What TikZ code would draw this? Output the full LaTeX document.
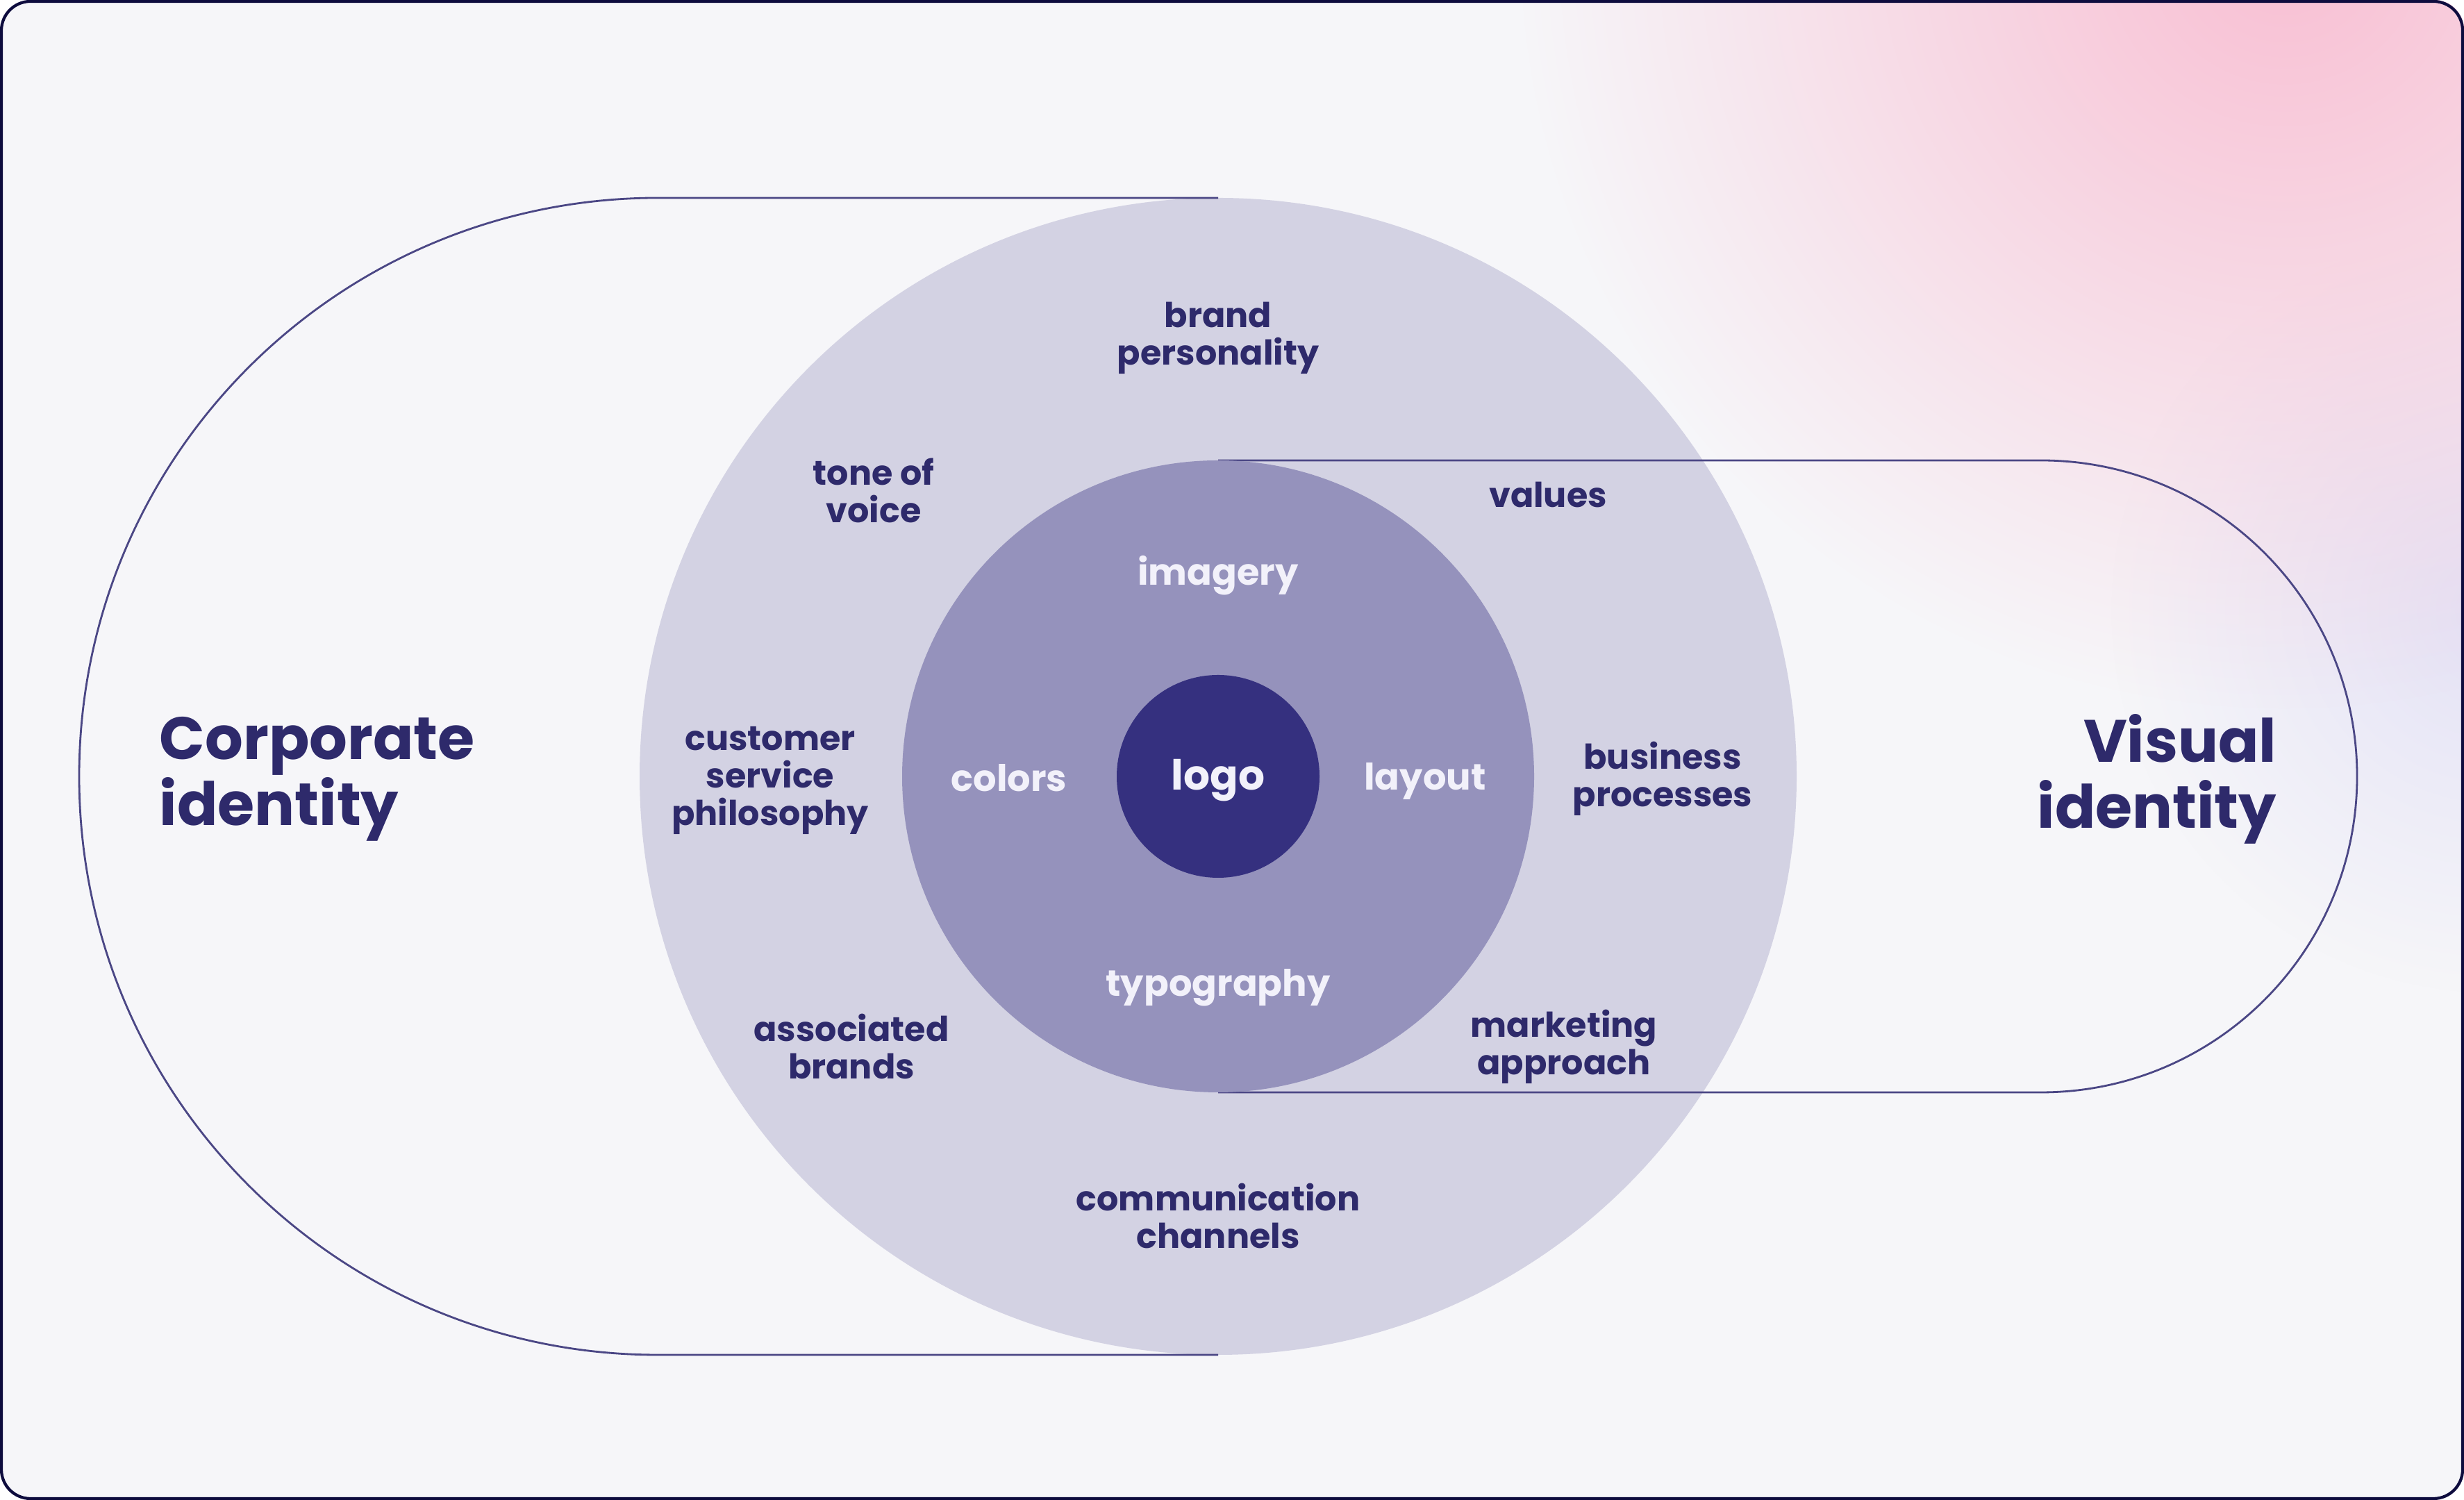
\documentclass[tikz,border=0pt]{standalone}
\usepackage{fontspec}
\usetikzlibrary{fadings}
\setmainfont{Poppins}
\definecolor{bgcol}{HTML}{F6F6F9}
\definecolor{framecol}{HTML}{0E0C3E}
\definecolor{pinkcol}{HTML}{F9BFD3}
\definecolor{lilaccol}{HTML}{E4E2F6}
\definecolor{outercol}{HTML}{D3D2E3}
\definecolor{innercol}{HTML}{9592BC}
\definecolor{corecol}{HTML}{35307F}
\definecolor{edgecol}{HTML}{4B4785}
\definecolor{inkcol}{HTML}{2E2A6B}
\definecolor{palecol}{HTML}{F2F1FA}
\tikzfading[name=glowfade, inner color=transparent!0, outer color=transparent!100]

\begin{document}
\begin{tikzpicture}[every node/.style={align=center, text=inkcol, font=\bfseries\fontsize{14}{15.4}\selectfont},
    pale/.style={text=palecol, font=\bfseries\fontsize{15}{16}\selectfont},
    title/.style={inner sep=0pt, font=\bfseries\fontsize{24.5}{27}\selectfont}]
  \useasboundingbox (0,0) rectangle (35.48,21.6);
  % card and background glow
  \fill[bgcol, rounded corners=0.42cm] (0,0) rectangle (35.48,21.6);
  \begin{scope}
    \clip[rounded corners=0.42cm] (0,0) rectangle (35.48,21.6);
    \fill[lilaccol, path fading=glowfade] (35.9,12.8) circle (5.5);
    \fill[pinkcol, path fading=glowfade] (32.9,22.4) circle (11);
  \end{scope}
  \draw[framecol, line width=1.2pt, rounded corners=0.42cm] (0.02,0.02) rectangle (35.46,21.58);

  % rings
  \fill[outercol] (17.54,10.42) circle (8.33);
  \draw[edgecol, line width=0.8pt] (17.54,18.75) -- (9.47,18.75) arc (90:270:8.33) -- (17.54,2.09);
  \draw[edgecol, line width=0.8pt] (17.54,14.97) -- (29.39,14.97) arc (90:-90:4.55) -- (17.54,5.87);
  \fill[innercol] (17.54,10.42) circle (4.55);
  \fill[corecol] (17.54,10.42) circle (1.46);

  % labels
  \node (corporate) [title, align=left, anchor=west] at (2.29,10.38) {Corporate\\identity};
  \node (visual) [title, align=right, anchor=east] at (32.79,10.38) {Visual\\identity};

  \node (brand) at (17.54,16.73) {brand\\personality};
  \node (tone) at (12.58,14.54) {tone of\\voice};
  \node (values) at (22.29,14.47) {values};
  \node (customer) at (11.09,10.36) {customer\\service\\philosophy};
  \node (business) at (23.94,10.39) {business\\processes};
  \node (associated) at (12.26,6.53) {associated\\brands};
  \node (marketing) at (22.52,6.53) {marketing\\approach};
  \node (channels) at (17.54,4.09) {communication\\channels};

  \node (imagery) [pale] at (17.54,13.31) {imagery};
  \node (colors) [pale] at (14.53,10.40) {colors};
  \node (layout) [pale] at (20.52,10.35) {layout};
  \node (typography) [pale] at (17.54,7.38) {typography};
  \node (logo) [pale, font=\bfseries\fontsize{17}{18}\selectfont] at (17.54,10.36) {logo};
\end{tikzpicture}
\end{document}
